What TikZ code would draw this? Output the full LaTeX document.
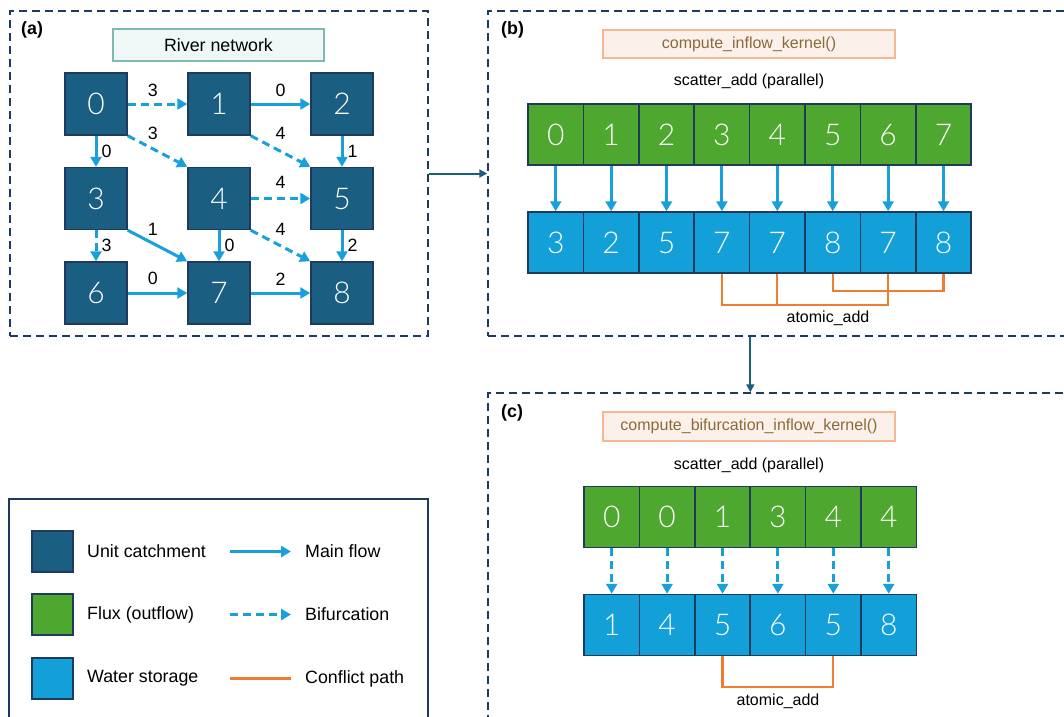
\documentclass[tikz,border=0pt]{standalone}
\usepackage{fontspec}
\setmainfont{Liberation Sans}
\newfontfamily\digfont{Lato}[UprightFont=* Light]
\usetikzlibrary{arrows.meta}
\definecolor{navy}{HTML}{1F3A5C}
\definecolor{catch}{HTML}{1A5E82}
\definecolor{flux}{HTML}{4EA72E}
\definecolor{store}{HTML}{139FD8}
\definecolor{flow}{HTML}{18A0DC}
\definecolor{conf}{HTML}{ED7D31}
\definecolor{kfill}{HTML}{FBF1EA}
\definecolor{kdraw}{HTML}{F4B894}
\definecolor{ktext}{HTML}{8A6A3A}
\definecolor{rfill}{HTML}{EFF8F6}
\definecolor{rdraw}{HTML}{7FBAB2}
\begin{document}
\begin{tikzpicture}[x=1pt,y=-1pt,
  txt/.style={font=\fontsize{17.8}{20}\selectfont, text=black, inner sep=0pt},
  stxt/.style={font=\fontsize{16}{18}\selectfont, text=black, inner sep=0pt},
  btxt/.style={font=\fontsize{17.8}{20}\selectfont\bfseries, text=black, inner sep=0pt},
  panel/.style={draw=navy, line width=1.5pt, dash pattern=on 8pt off 5pt, inner sep=0pt},
  cellbase/.style={draw=navy, line width=1.5pt, inner sep=0pt, text=white, font=\digfont\fontsize{30}{30}\selectfont},
  cnode/.style={cellbase, fill=catch, minimum width=62pt, minimum height=62pt},
  fcell/.style={cellbase, fill=flux, minimum width=55.4pt, minimum height=61pt},
  scell/.style={cellbase, fill=store, minimum width=55.4pt, minimum height=61pt},
  main/.style={draw=flow, line width=3pt, -{Triangle[length=10pt,width=11pt]}},
  bif/.style={main, dash pattern=on 8pt off 5pt},
  cpath/.style={draw=conf, line width=2.2pt},
  elbl/.style={txt},
  link/.style={draw=catch, line width=2pt, -{Triangle[length=8pt,width=8pt]}},
  kbox/.style={draw=kdraw, fill=kfill, line width=2pt, minimum width=292pt, minimum height=28pt, text=ktext, font=\fontsize{16}{18}\selectfont, inner sep=0pt}
]
\clip (0,0) rectangle (1064,716);
\useasboundingbox (0,0) rectangle (1064,716);

% panels
\node[panel, minimum width=418pt, minimum height=325pt] (pa) at (219,173.5) {};
\node[panel, minimum width=587pt, minimum height=325pt] (pb) at (781.5,173.5) {};
\node[panel, minimum width=587pt, minimum height=337pt] (pc) at (781.5,561.5) {};
\node[draw=navy, line width=1.2pt, minimum width=419pt, minimum height=231pt] (leg) at (218.5,614.5) {};

\node[btxt, anchor=west] (la) at (21,30) {(a)};
\node[btxt, anchor=west] (lb) at (501,30) {(b)};
\node[btxt, anchor=west] (lc) at (501,413) {(c)};

% panel (a)
\node[draw=rdraw, fill=rfill, line width=2pt, minimum width=211pt, minimum height=32pt, txt] (rn) at (218.5,45) {River network};
\node[cnode] (n0) at (96,104) {0};
\node[cnode] (n1) at (219,104) {1};
\node[cnode] (n2) at (342,104) {2};
\node[cnode] (n3) at (96,198.5) {3};
\node[cnode] (n4) at (219,198.5) {4};
\node[cnode] (n5) at (342,198.5) {5};
\node[cnode] (n6) at (96,293) {6};
\node[cnode] (n7) at (219,293) {7};
\node[cnode] (n8) at (342,293) {8};

\draw[bif] (n0) -- node[elbl, pos=0.42, above=5.5pt] {3} (n1);
\draw[main] (n1) -- node[elbl, midway, above=5.5pt] {0} (n2);
\draw[main] (n0) -- node[elbl, midway, right=4pt] {0} (n3);
\draw[bif] (n0.south east) -- node[elbl, pos=0.42, above=7.5pt] {3} (n4.north west);
\draw[bif] (n1.south east) -- node[elbl, midway, above=10pt] {4} (n5.north west);
\draw[main] (n2) -- node[elbl, midway, right=4pt] {1} (n5);
\draw[bif] (n4) -- node[elbl, midway, above=9pt] {4} (n5);
\draw[bif] (n3) -- node[elbl, midway, right=4pt] {3} (n6);
\draw[main] (n3.south east) -- node[elbl, pos=0.42, above=6.5pt] {1} (n7.north west);
\draw[main] (n4) -- node[elbl, midway, right=4pt] {0} (n7);
\draw[bif] (n4.south east) -- node[elbl, midway, above=9pt] {4} (n8.north west);
\draw[main] (n5) -- node[elbl, midway, right=4pt] {2} (n8);
\draw[main] (n6) -- node[elbl, pos=0.42, above=6.5pt] {0} (n7);
\draw[main] (n7) -- node[elbl, midway, above=6.5pt] {2} (n8);

% panel (b)
\node[kbox] (kb) at (749,44) {compute\_inflow\_kernel()};
\node[stxt] (sb) at (749,81) {scatter\_add (parallel)};
\foreach \i/\a/\b in {0/0/3,1/1/2,2/2/5,3/3/7,4/4/7,5/5/8,6/6/7,7/7/8} {
  \node[fcell] (g\i) at ({555.7+55.4*\i},134.5) {\a};
  \node[scell] (s\i) at ({555.7+55.4*\i},242.5) {\b};
  \draw[main] (g\i) -- (s\i);
}
\draw[cpath] (s3.south) -- ++(0,31) -| (s6.south);
\draw[cpath] (s4.south) -- ++(0,31);
\draw[cpath] (s5.south) -- ++(0,17) -| (s7.south);
\node[stxt] (ab) at (828,318) {atomic\_add};

% panel (c)
\node[kbox, minimum height=29pt] (kc) at (749,426.5) {compute\_bifurcation\_inflow\_kernel()};
\node[stxt] (sc) at (749,465) {scatter\_add (parallel)};
\foreach \i/\a/\b in {0/0/1,1/0/4,2/1/5,3/3/6,4/4/5,5/4/8} {
  \node[fcell] (c\i) at ({611.7+55.4*\i},517) {\a};
  \node[scell] (d\i) at ({611.7+55.4*\i},625) {\b};
  \draw[bif] (c\i) -- (d\i);
}
\draw[cpath] (d2.south) -- ++(0,31) -| (d4.south);
\node[stxt] (ac) at (778,701) {atomic\_add};

% links between panels
\draw[link] (pa.east) -- (pb.west);
\draw[link] (pb.south -| g3.east) -- (pc.north -| g3.east);

% legend
\node[cellbase, fill=catch, minimum width=41pt, minimum height=41pt] (k1) at (52.5,551.5) {};
\node[cellbase, fill=flux, minimum width=41pt, minimum height=41pt] (k2) at (52.5,614.5) {};
\node[cellbase, fill=store, minimum width=41pt, minimum height=41pt] (k3) at (52.5,678.5) {};
\node[txt, anchor=west] (t1) at (87,551.5) {Unit catchment};
\node[txt, anchor=west] (t2) at (87,614.5) {Flux (outflow)};
\node[txt, anchor=west] (t3) at (87,678.5) {Water storage};
\coordinate (m1a) at (230,551.5); \coordinate (m1b) at (291,551.5);
\coordinate (m2a) at (230,614.5); \coordinate (m2b) at (291,614.5);
\coordinate (m3a) at (230,678.5); \coordinate (m3b) at (291,678.5);
\draw[main] (m1a) -- (m1b);
\draw[bif] (m2a) -- (m2b);
\draw[cpath, line width=3pt] (m3a) -- (m3b);
\node[txt, anchor=west] (u1) at (305,551.5) {Main flow};
\node[txt, anchor=west] (u2) at (305,614.5) {Bifurcation};
\node[txt, anchor=west] (u3) at (305,678.5) {Conflict path};
\end{tikzpicture}
\end{document}
